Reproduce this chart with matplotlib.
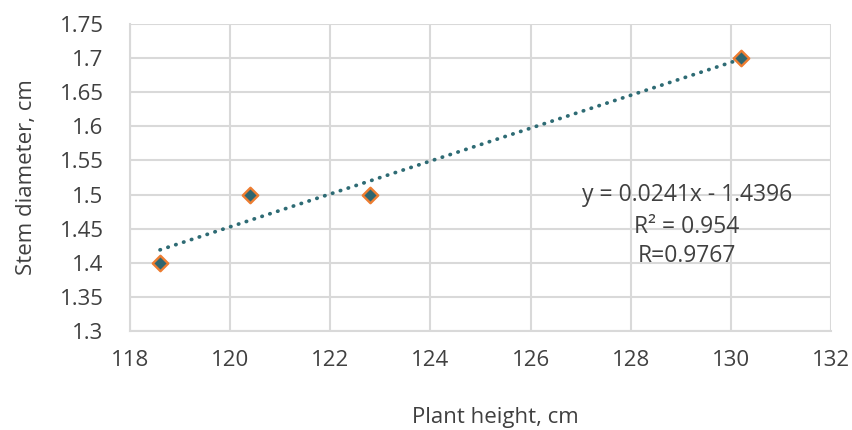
import matplotlib
matplotlib.use("Agg")
import matplotlib.pyplot as plt
import numpy as np

plant_height = [118.6, 120.4, 122.8, 130.2]
stem_diameter = [1.4, 1.5, 1.5, 1.7]
x_ticks = [118, 120, 122, 124, 126, 128, 130, 132]
y_ticks = [1.3, 1.35, 1.4, 1.45, 1.5, 1.55, 1.6, 1.65, 1.7, 1.75]
y_tick_labels = ["1.3", "1.35", "1.4", "1.45", "1.5", "1.55", "1.6", "1.65", "1.7", "1.75"]
eq_lines = ["y = 0.0241x - 1.4396", "R² = 0.954", "R=0.9767"]

plt.rcParams['font.family'] = ['Open Sans', 'DejaVu Sans']
W, H = 852, 430
fig = plt.figure(figsize=(W / 100, H / 100), dpi=100)
ax = fig.add_axes([130 / W, 1 - 331 / H, 701 / W, 307 / H])

slope, intercept = np.polyfit(plant_height, stem_diameter, 1)
xs = np.array([min(plant_height), max(plant_height)])
ax.plot(xs, slope * xs + intercept, linestyle=(0, (0.1, 2.1)), color='#2e6b74',
        linewidth=2.7, dash_capstyle='round', zorder=3)
ax.scatter(plant_height, stem_diameter, marker='D', s=62, facecolor='#2f6670',
           edgecolor='#ed7d31', linewidth=1.7, zorder=4)

ax.set_xlim(118, 132)
ax.set_ylim(1.3, 1.75)
ax.set_xticks(x_ticks)
ax.set_yticks(y_ticks)
ax.set_yticklabels(y_tick_labels)
ax.grid(True, color='#d9d9d9', linewidth=1.5)
ax.set_axisbelow(True)
for s in ['top', 'right']:
    ax.spines[s].set_visible(False)
for s in ['left', 'bottom']:
    ax.spines[s].set_color('#d9d9d9')
    ax.spines[s].set_linewidth(1.5)
ax.tick_params(length=0, labelsize=16, colors='#404040')
ax.tick_params(axis='y', pad=19)
ax.tick_params(axis='x', pad=14)

fig.text(495 / W, 1 - 423 / H, "Plant height, cm", ha='center', va='baseline',
         fontsize=16, color='#404040')
fig.text(27 / W, 1 - 177 / H, "Stem diameter, cm", ha='center', va='center',
         rotation=90, fontsize=16, color='#404040')

eq_baselines = [201, 233, 262]
for line, yb in zip(eq_lines, eq_baselines):
    fig.text(687 / W, 1 - yb / H, line, ha='center', va='baseline',
             fontsize=16.5, color='#404040')

fig.savefig("out.png", dpi=100)
